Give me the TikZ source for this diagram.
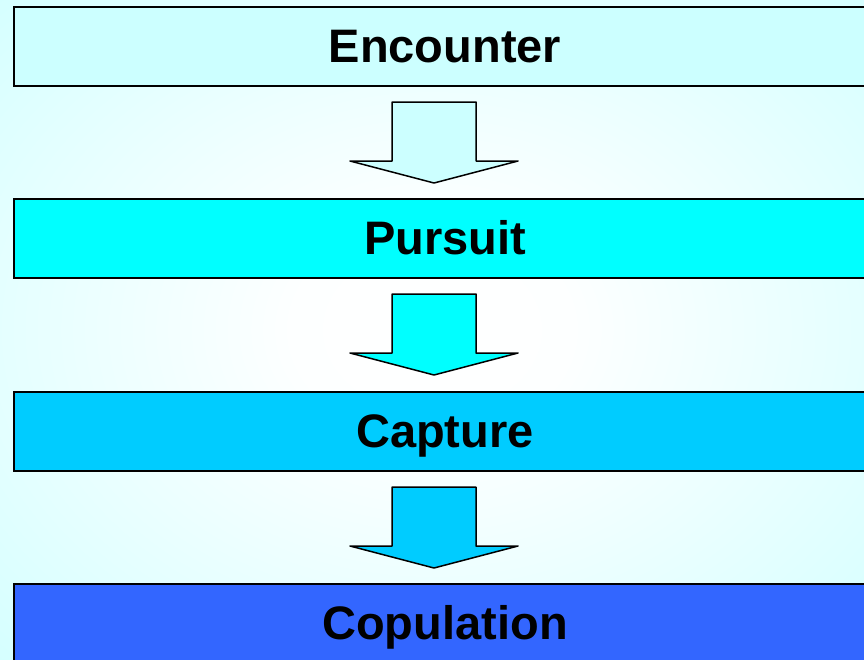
\documentclass[tikz,border=0pt]{standalone}
\usepackage{fontspec}
\setmainfont{Liberation Sans}
\definecolor{bgc}{RGB}{192,255,255}
\definecolor{cA}{RGB}{204,255,255}
\definecolor{cB}{RGB}{0,255,255}
\definecolor{cC}{RGB}{0,204,255}
\definecolor{cD}{RGB}{51,102,255}
\pgfdeclareradialshading{bgshade}{\pgfpoint{0bp}{0bp}}{color(0bp)=(white); color(8bp)=(white!97!bgc); color(50bp)=(bgc); color(100bp)=(bgc)}
\begin{document}
\begin{tikzpicture}[x=1pt,y=-1pt,
  stage/.style={draw=black, line width=2pt, minimum width=862pt, minimum height=79pt,
    inner sep=0pt, text height=33.5pt, text depth=0pt,
    font=\fontsize{47}{52}\selectfont\bfseries},
  blockarrow/.pic={\path[pic actions, draw=black, line width=1.5pt, line join=round]
    (-42,0) -- (42,0) -- (42,59) -- (84,59) -- (0,81) -- (-84,59) -- (-42,59) -- cycle;}]
\useasboundingbox (0,0) rectangle (864,659);
\clip (0,0) rectangle (864,659);
\shade[shading=bgshade] (0,0) rectangle (864,659);
\node[stage, fill=cA] (enc) at (445,46) {Encounter};
\node[stage, fill=cB] (pur) at (445,238) {Pursuit};
\node[stage, fill=cC] (cap) at (445,431) {Capture};
\node[stage, fill=cD] (cop) at (445,623) {Copulation};
\pic[fill=cA] at (434,102) {blockarrow};
\pic[fill=cB] at (434,294) {blockarrow};
\pic[fill=cC] at (434,487) {blockarrow};
\end{tikzpicture}
\end{document}
